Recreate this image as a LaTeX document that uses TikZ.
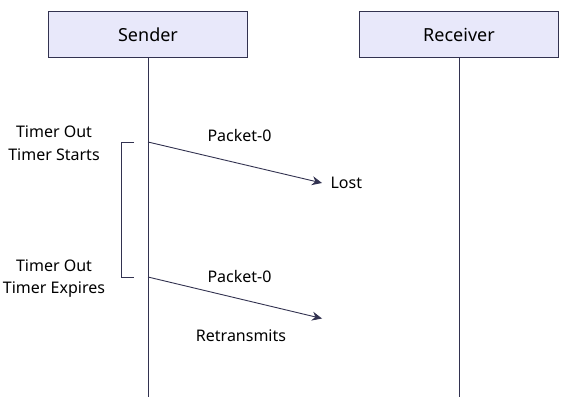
\documentclass[tikz,border=0pt]{standalone}
\usepackage{fontspec}
\setmainfont{Noto Sans}
\usetikzlibrary{arrows.meta,positioning}

\definecolor{linec}{RGB}{50,50,80}
\definecolor{boxfill}{RGB}{232,232,250}

\tikzset{
  actor/.style={draw=linec,fill=boxfill,line width=0.9pt,minimum width=199pt,minimum height=46.5pt,font=\fontsize{18}{20}\selectfont},
  lbl/.style={font=\fontsize{16}{18}\selectfont,text=black},
  side/.style={font=\fontsize{16}{22.6}\selectfont,align=center,text=black},
  msg/.style={->,>={Stealth[length=10pt,width=9pt]},draw=linec,line width=0.9pt}
}

\begin{document}
\begin{tikzpicture}[x=1pt,y=-1pt]
		\useasboundingbox (0,0) rectangle (567,403);
		\node[actor] (sender) at (148,34.5) {Sender};
		\node[actor] (receiver) at (459,34.5) {Receiver};
		\coordinate (sendend) at (148,397);
		\coordinate (recvend) at (459,397);
		\draw[linec,line width=0.9pt] (sender.south) -- (sendend);
		\draw[linec,line width=0.9pt] (receiver.south) -- (recvend);
		% messages
		\coordinate (s1) at (148,142);
		\coordinate (s2) at (148,277);
		\coordinate (lost) at (322,183);
		\coordinate (retx) at (322,318.5);
		\draw[msg] (s1) -- (lost);
		\draw[msg] (s2) -- (retx);
		\node[lbl] (p1) at (239.5,136) {Packet-0};
		\node[lbl] (p2) at (239.5,276) {Packet-0};
		\node[lbl,right=5pt of lost] (lostlbl) {Lost};
		\node[lbl] (retlbl) at (241,336) {Retransmits};
		% timer bracket
		\coordinate (b1) at (134,142);
		\coordinate (b2) at (134,277);
		\draw[linec,line width=0.9pt] (b1) -- ++(-13,0) |- (b2);
		\node[side] (tstart) at (54,143) {Timer Out\\Timer Starts};
		\node[side] (texp) at (54,278.5) {Timer Out\\Timer Expires};
	\end{tikzpicture}
\end{document}
